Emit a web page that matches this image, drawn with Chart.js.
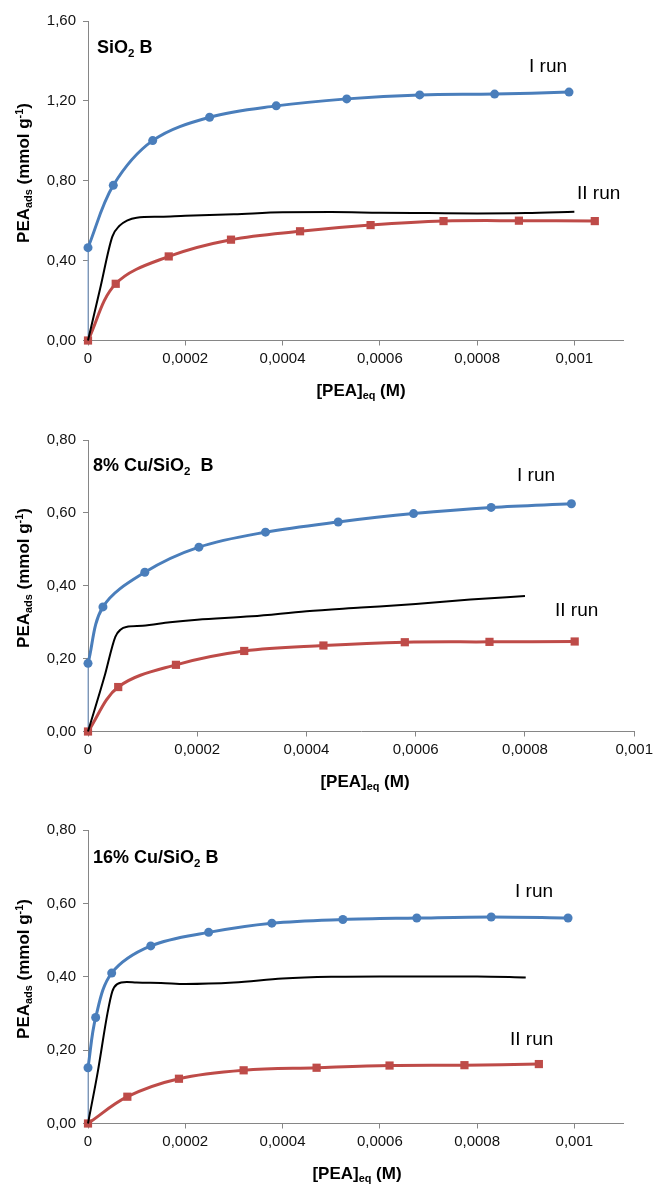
<!DOCTYPE html>
<html>
<head>
<meta charset="utf-8">
<script src="https://cdn.jsdelivr.net/npm/chart.js@4"></script>
<style>
  html, body { margin: 0; padding: 0; background: #fff; }
  #wrap { position: relative; width: 657px; height: 1185px; overflow: hidden; }
  canvas { position: absolute; left: 0; }
</style>
</head>
<body>
<div id="wrap">
  <canvas id="c1" width="657" height="410" style="top:0px"></canvas>
  <canvas id="c2" width="657" height="390" style="top:410px"></canvas>
  <canvas id="c3" width="657" height="385" style="top:800px"></canvas>
</div>
<script>
// SiO2 B
const sio2BlueX = [0, 0.000052, 0.000133, 0.000250, 0.000387, 0.000532, 0.000682, 0.000836, 0.000989];
const sio2BlueY = [0.465, 0.777, 1.001, 1.118, 1.175, 1.210, 1.230, 1.234, 1.244];
const sio2RedX = [0, 0.000057, 0.000166, 0.000294, 0.000436, 0.000581, 0.000731, 0.000886, 0.001042];
const sio2RedY = [0, 0.284, 0.421, 0.505, 0.547, 0.578, 0.598, 0.600, 0.598];
const sio2BlackX = [0, 0.000025, 0.00005, 0.000065, 0.00008, 0.0001, 0.00015, 0.0002, 0.0003, 0.0004, 0.0005, 0.0006, 0.0007, 0.0008, 0.0009, 0.001];
const sio2BlackY = [0, 0.26, 0.52, 0.575, 0.60, 0.615, 0.62, 0.625, 0.632, 0.642, 0.643, 0.640, 0.638, 0.636, 0.638, 0.645];

// 8% Cu/SiO2 B
const cu8BlueX = [0, 0.0000274, 0.000104, 0.000203, 0.000325, 0.000458, 0.000596, 0.000738, 0.000885];
const cu8BlueY = [0.187, 0.342, 0.437, 0.506, 0.547, 0.575, 0.598, 0.615, 0.625];
const cu8RedX = [0, 0.0000553, 0.000161, 0.000286, 0.000431, 0.000580, 0.000735, 0.000891];
const cu8RedY = [0, 0.122, 0.183, 0.221, 0.236, 0.245, 0.246, 0.247];
const cu8BlackX = [0, 0.00003, 0.00005, 0.00006, 0.00007, 0.0001, 0.00015, 0.0002, 0.0003, 0.0004, 0.0005, 0.0006, 0.0007, 0.0008];
const cu8BlackY = [0, 0.15, 0.26, 0.28, 0.287, 0.29, 0.30, 0.307, 0.316, 0.33, 0.34, 0.35, 0.362, 0.372];

// 16% Cu/SiO2 B
const cu16BlueX = [0, 0.0000158, 0.0000487, 0.000129, 0.000248, 0.000378, 0.000524, 0.000676, 0.000829, 0.000987];
const cu16BlueY = [0.152, 0.289, 0.410, 0.484, 0.521, 0.546, 0.556, 0.560, 0.563, 0.560];
const cu16RedX = [0, 0.0000809, 0.000187, 0.000320, 0.000470, 0.000620, 0.000774, 0.000927];
const cu16RedY = [0, 0.073, 0.122, 0.145, 0.152, 0.158, 0.159, 0.162];
const cu16BlackX = [0, 0.00002, 0.00004, 0.00005, 0.00006, 0.00008, 0.0001, 0.00015, 0.0002, 0.0003, 0.0004, 0.0005, 0.0006, 0.0007, 0.0008, 0.0009];
const cu16BlackY = [0, 0.14, 0.30, 0.36, 0.38, 0.386, 0.384, 0.383, 0.38, 0.384, 0.395, 0.400, 0.401, 0.401, 0.401, 0.398];

const xStep = 0.0002;
const FONT = "'Liberation Sans', Arial, sans-serif";
const BLUE = '#4a7ebb';
const RED = '#be4b48';
const AXIS = '#868686';

// texts with sub/superscripts, as parts
const yTitle = [{ t: 'PEA' }, { t: 'ads', s: 'sub' }, { t: ' (mmol g' }, { t: '-1', s: 'sup' }, { t: ')' }];
const xTitle = [{ t: '[PEA]' }, { t: 'eq', s: 'sub' }, { t: ' (M)' }];

function pts(xs, ys) {
  return xs.map((x, i) => ({ x: x, y: ys[i] }));
}

function setFont(ctx, p, size, weight) {
  const fs = p.s ? size * 0.64 : size;
  ctx.font = weight + ' ' + fs + 'px ' + FONT;
}

function richWidth(ctx, parts, size, weight) {
  let w = 0;
  parts.forEach(p => { setFont(ctx, p, size, weight); w += ctx.measureText(p.t).width; });
  return w;
}

// draw text left-aligned from x on baseline y
function drawRich(ctx, parts, x, y, size, weight) {
  ctx.textAlign = 'left';
  ctx.textBaseline = 'alphabetic';
  parts.forEach(p => {
    setFont(ctx, p, size, weight);
    let dy = 0;
    if (p.s === 'sub') dy = size * 0.2;
    if (p.s === 'sup') dy = -size * 0.38;
    ctx.fillText(p.t, x, y + dy);
    x += ctx.measureText(p.t).width;
  });
}

function labelPlugin(lb) {
  return {
    id: 'labels',
    afterDraw(chart) {
      const ctx = chart.ctx;
      ctx.save();
      ctx.fillStyle = '#000';
      // panel name
      drawRich(ctx, lb.name, lb.nameX, lb.nameY, 18, 'bold');
      // run labels
      drawRich(ctx, [{ t: 'I run' }], lb.run1[0], lb.run1[1], 19, 'normal');
      drawRich(ctx, [{ t: 'II run' }], lb.run2[0], lb.run2[1], 19, 'normal');
      // x axis title
      const xw = richWidth(ctx, xTitle, 17, 'bold');
      drawRich(ctx, xTitle, lb.xTitle[0] - xw / 2, lb.xTitle[1], 17, 'bold');
      // y axis title, rotated
      const yw = richWidth(ctx, yTitle, 17, 'bold');
      ctx.translate(29, lb.yTitleY);
      ctx.rotate(-Math.PI / 2);
      drawRich(ctx, yTitle, -yw / 2, 0, 17, 'bold');
      ctx.restore();
    }
  };
}

function makeChart(id, d, o) {
  const canvas = document.getElementById(id);
  const h = canvas.height;
  return new Chart(canvas, {
    type: 'scatter',
    data: {
      datasets: [
        {
          data: pts(d.blackX, d.blackY), showLine: true, borderColor: '#000', borderWidth: 2,
          pointRadius: 0, cubicInterpolationMode: 'monotone', clip: false, order: 0
        },
        {
          data: pts(d.redX, d.redY), showLine: true, borderColor: RED, backgroundColor: RED, borderWidth: 3,
          pointStyle: 'rect', pointRadius: 5.8, pointBorderWidth: 0,
          tension: 0.35, clip: false, order: 1
        },
        {
          data: pts(d.blueX, d.blueY), showLine: true, borderColor: BLUE, backgroundColor: BLUE, borderWidth: 3,
          pointStyle: 'circle', pointRadius: 4.5, pointBorderWidth: 0,
          tension: 0.35, clip: false, order: 2
        },
        {
          // thin link from the origin up to the first I run point
          data: [{ x: d.blueX[0], y: 0 }, { x: d.blueX[0], y: d.blueY[0] }], showLine: true,
          borderColor: '#7fa6d9', borderWidth: 1, pointRadius: 0, clip: false, order: 3
        }
      ]
    },
    options: {
      responsive: false,
      animation: false,
      layout: { padding: { top: o.top, right: 657 - o.right, bottom: 0, left: 0 } },
      plugins: { legend: { display: false }, tooltip: { enabled: false } },
      scales: {
        x: {
          type: 'linear', min: 0, max: o.xMax,
          afterFit: s => { s.height = h - o.bottom; },
          border: { color: AXIS, width: 1 },
          grid: { drawOnChartArea: false, drawTicks: true, tickLength: 5, color: AXIS },
          ticks: {
            stepSize: xStep, includeBounds: false, autoSkip: false, maxRotation: 0, padding: 4,
            color: '#111', font: { family: FONT, size: 15 },
            callback: v => v === 0 ? '0' : String(Number(v.toFixed(4))).replace('.', ',')
          }
        },
        y: {
          type: 'linear', min: 0, max: o.yMax,
          afterFit: s => { s.width = 88; },
          border: { color: AXIS, width: 1 },
          grid: { drawOnChartArea: false, drawTicks: true, tickLength: 5, color: AXIS },
          ticks: {
            stepSize: o.yStep, padding: 7, color: '#111', font: { family: FONT, size: 15 },
            callback: v => v.toFixed(2).replace('.', ',')
          }
        }
      }
    },
    plugins: [labelPlugin(o.labels)]
  });
}

makeChart('c1',
  { blueX: sio2BlueX, blueY: sio2BlueY, redX: sio2RedX, redY: sio2RedY, blackX: sio2BlackX, blackY: sio2BlackY },
  {
    top: 21, bottom: 340.5, right: 623, xMax: 0.0011, yMax: 1.6, yStep: 0.4,
    labels: {
      name: [{ t: 'SiO' }, { t: '2', s: 'sub' }, { t: ' B' }], nameX: 97, nameY: 53,
      run1: [529, 72], run2: [577, 199], xTitle: [361, 396], yTitleY: 173
    }
  });

makeChart('c2',
  { blueX: cu8BlueX, blueY: cu8BlueY, redX: cu8RedX, redY: cu8RedY, blackX: cu8BlackX, blackY: cu8BlackY },
  {
    top: 30, bottom: 321.5, right: 636, xMax: 0.001, yMax: 0.8, yStep: 0.2,
    labels: {
      name: [{ t: '8% Cu/SiO' }, { t: '2', s: 'sub' }, { t: '  B' }], nameX: 93, nameY: 61,
      run1: [517, 71], run2: [555, 206], xTitle: [365, 377], yTitleY: 168
    }
  });

makeChart('c3',
  { blueX: cu16BlueX, blueY: cu16BlueY, redX: cu16RedX, redY: cu16RedY, blackX: cu16BlackX, blackY: cu16BlackY },
  {
    top: 30, bottom: 323.5, right: 623, xMax: 0.0011, yMax: 0.8, yStep: 0.2,
    labels: {
      name: [{ t: '16% Cu/SiO' }, { t: '2', s: 'sub' }, { t: ' B' }], nameX: 93, nameY: 63,
      run1: [515, 97], run2: [510, 245], xTitle: [357, 379], yTitleY: 169
    }
  });
</script>
</body>
</html>
